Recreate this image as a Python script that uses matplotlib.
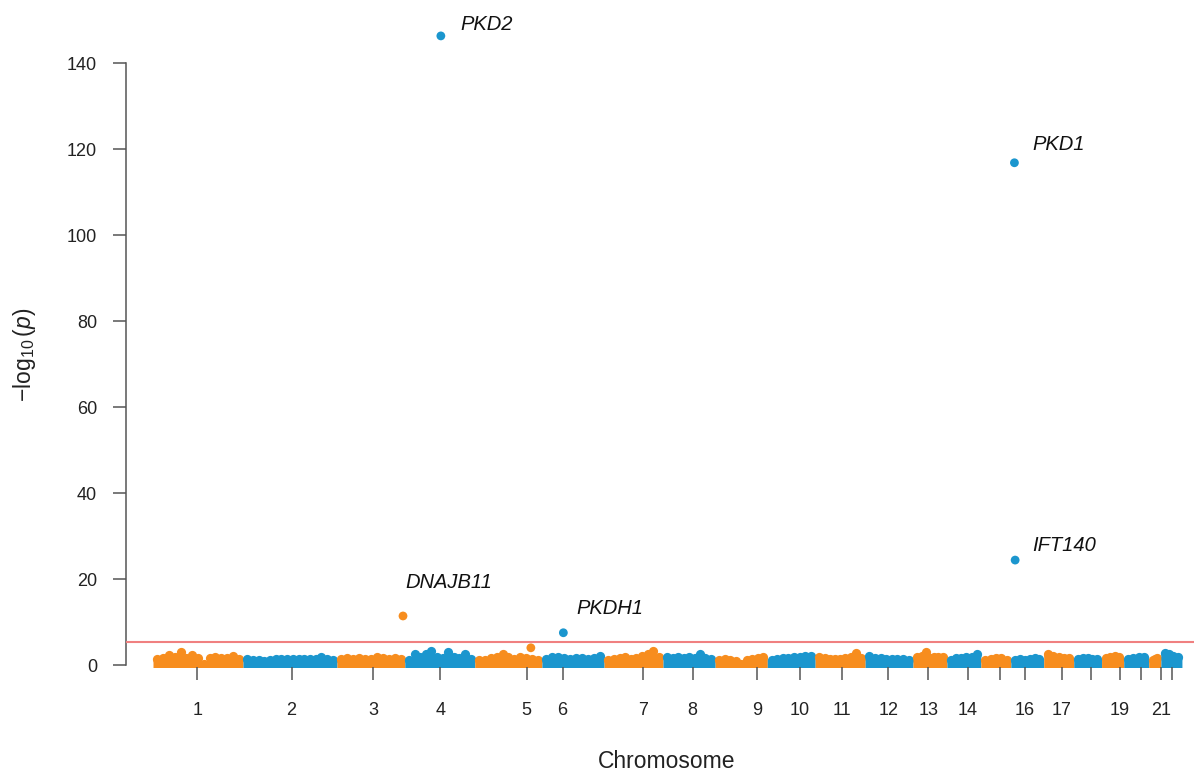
import matplotlib.pyplot as plt
import numpy as np

plt.rcParams['font.family'] = ['Liberation Sans', 'DejaVu Sans']
plt.rcParams['mathtext.fontset'] = 'custom'
plt.rcParams['mathtext.rm'] = 'Liberation Sans'
plt.rcParams['mathtext.it'] = 'Liberation Sans:italic'

# chromosome lengths on the x axis (Mb)
chrom_len = [252, 263, 190, 196, 188, 174, 165, 146, 146, 134, 140,
             134, 95, 95, 84, 92, 84, 78, 62, 70, 34, 59]

# tick positions (Mb, cumulative) and labels, R drops the ones that would overlap
tick_pos = [124, 388, 617, 804, 1046, 1147, 1371, 1511, 1692, 1812, 1928,
            2059, 2171, 2282, 2372, 2441, 2544, 2626, 2708, 2766, 2822, 2852]
tick_labels = ['1', '2', '3', '4', '5', '6', '7', '8', '9', '10', '11',
               '12', '13', '14', '', '16', '17', '', '19', '', '21', '']

# top of the dense cloud of gene points per chromosome, -log10(p), left to right
band_tops = [
    [1.4, 1.7, 2.3, 1.8, 3.0, 1.7, 2.3, 1.6, 0.2, 1.7, 1.8, 1.7, 1.6, 2.0, 1.4],
    [1.3, 1.1, 1.2, 1.0, 1.2, 1.4, 1.3, 1.5, 1.4, 1.3, 1.4, 1.5, 1.4, 1.8, 1.4, 1.2],
    [1.5, 1.6, 1.5, 1.7, 1.4, 1.5, 1.8, 1.6, 1.5, 1.7, 1.5],
    [1.2, 2.45, 1.95, 2.6, 3.2, 1.95, 1.65, 3.0, 1.95, 1.65, 2.45, 1.45],
    [1.05, 1.2, 1.65, 1.95, 2.45, 1.8, 1.45, 1.8, 1.65, 1.4, 1.05],
    [1.45, 1.95, 1.8, 1.65, 1.45, 1.65, 1.65, 1.5, 1.6, 2.2],
    [1.2, 1.45, 1.65, 1.8, 1.45, 1.65, 2.2, 2.6, 3.36, 1.8],
    [1.8, 1.65, 1.95, 1.65, 1.8, 1.7, 2.45, 1.65, 1.45],
    [1.2, 1.45, 1.2, 1.0, 0.2, 1.05, 1.45, 1.65, 1.8],
    [1.2, 1.45, 1.65, 1.65, 1.8, 1.95, 2.2, 2.0],
    [1.95, 1.65, 1.45, 1.45, 1.45, 1.65, 1.8, 2.75, 1.65],
    [2.2, 1.65, 1.65, 1.5, 1.5, 1.5, 1.5, 1.2],
    [1.8, 2.2, 3.0, 1.65, 1.8, 1.95, 1.8],
    [1.2, 1.65, 1.65, 1.8, 1.95, 2.45],
    [1.2, 1.45, 1.65, 1.65, 1.2],
    [1.2, 1.45, 1.2, 1.45, 1.65, 1.5],
    [2.45, 2.2, 1.8, 1.65, 1.65],
    [1.45, 1.65, 1.65, 1.5, 1.45],
    [1.65, 1.95, 2.2, 1.95],
    [1.45, 1.65, 1.8, 1.95],
    [1.2, 1.45, 1.65],
    [2.75, 2.45, 2.2, 1.95],
]

# genes standing out of the cloud
hit_chrom = [4, 16, 16, 3, 6, 5]
hit_pos = [806, 2412, 2414, 700, 1149, 1058]
hit_logp = [146.3, 116.8, 24.4, 11.4, 7.5, 4.0]
hit_gene = ['PKD2', 'PKD1', 'IFT140', 'DNAJB11', 'PKDH1', '']

threshold = 5.28

orange = '#F78D1E'
blue = '#1B96CE'
axis_col = '#555555'
# label offsets in points (dx, dy)
label_off = {'PKD2': (13.7, 8.3), 'PKD1': (13.2, 13.1), 'IFT140': (12.2, 10.8),
             'DNAJB11': (1.5, 23.8), 'PKDH1': (9.4, 17.3)}

fig = plt.figure(figsize=(11.94, 7.74), dpi=100)
ax = fig.add_axes([126 / 1194, (774 - 667) / 774, 1068 / 1194, 647 / 774])

starts = np.concatenate([[0], np.cumsum(chrom_len)[:-1]])
r = 12  # marker radius in Mb, keeps the cloud inside its chromosome

for i, tops in enumerate(band_tops):
    col = orange if i % 2 == 0 else blue
    s0 = starts[i]
    s1 = s0 + chrom_len[i]
    xs = np.linspace(s0 + r, s1 - r, len(tops))
    ax.fill_between(np.r_[s0, xs, s1], -1, np.r_[tops[0], tops, tops[-1]],
                    color=col, lw=0)
    ax.scatter(xs, tops, s=44, color=col, lw=0)

hit_cols = [orange if c % 2 == 1 else blue for c in hit_chrom]
ax.scatter(hit_pos, hit_logp, s=40, color=hit_cols, lw=0, zorder=3)
for x, y, g in zip(hit_pos, hit_logp, hit_gene):
    if g:
        ax.annotate(g, (x, y), xytext=label_off[g], textcoords='offset points',
                    ha='left', va='center', fontsize=14.5, style='italic',
                    color='#111111')

ax.axhline(threshold, color='#F08080', lw=1.5, zorder=4)

ax.set_xlim((126 - 153) * 2.8, (1194 - 153) * 2.8)
ax.set_ylim(-(667 - 665) / 4.3, (665 - 20) / 4.3)

ax.set_xticks(tick_pos)
ax.set_xticklabels(tick_labels)
ax.set_yticks(range(0, 141, 20))

for side in ['top', 'right', 'bottom']:
    ax.spines[side].set_visible(False)
ax.spines['left'].set_bounds(0, 140)
ax.spines['left'].set_color(axis_col)
ax.spines['left'].set_linewidth(1.1)

ax.tick_params(axis='both', length=9.4, width=1.1, color=axis_col,
               labelsize=13, labelcolor='#222222')
ax.tick_params(axis='x', pad=16)
ax.tick_params(axis='y', pad=11.5)

fig.text(25 / 1194, 1 - 355 / 774, r'$-\log_{10}(p)$', rotation=90,
         ha='center', va='center', fontsize=16.5, color='#222222')
fig.text(667 / 1194, 1 - 762 / 774, 'Chromosome', ha='center', va='center',
         fontsize=16.5, color='#222222')

fig.savefig('out.png', dpi=100)
